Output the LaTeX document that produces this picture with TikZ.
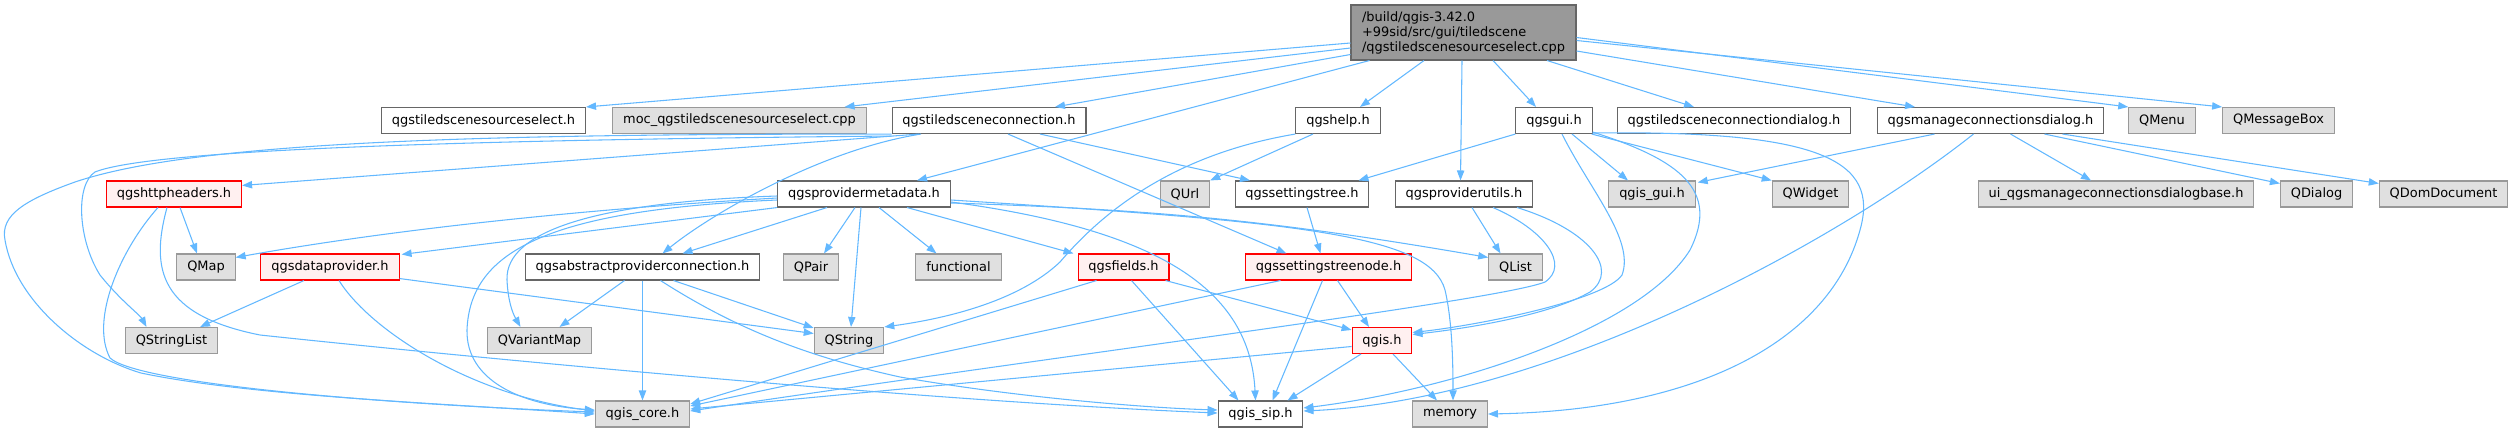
\documentclass[tikz,border=0pt]{standalone}
\usepackage{fontspec}
\setmainfont{DejaVu Sans}
\usepackage{xcolor}
\usetikzlibrary{arrows.meta,calc,positioning}

\definecolor{edgeblue}{HTML}{63B8FF}
\definecolor{nodegray}{HTML}{E0E0E0}
\definecolor{bordergray}{HTML}{999999}
\definecolor{borderdark}{HTML}{666666}
\definecolor{rootgray}{HTML}{999999}
\definecolor{redfill}{HTML}{FFF0F0}

\begin{document}
\begin{tikzpicture}[
		x=0.75pt, y=-0.75pt,
		hfile/.style={draw=borderdark, fill=white, line width=0.8pt, minimum height=19.5pt,
			inner xsep=7.8pt, inner ysep=0pt, font=\fontsize{9.7}{11.25}\selectfont},
		sysfile/.style={hfile, draw=bordergray, fill=nodegray},
		badfile/.style={hfile, draw=red, fill=redfill},
		rootfile/.style={hfile, fill=rootgray, align=left, minimum width=168.75pt, minimum height=41.25pt},
		dep/.style={draw=edgeblue, line width=0.8pt, -{Triangle[length=7.5pt,width=5.5pt]}}
		]
		\useasboundingbox (0,0) rectangle (2515,432);

		% Le fichier source
		\node[rootfile] (main) at (1463.5,32.5) {/build/qgis-3.42.0\\+99sid/src/gui/tiledscene\\/qgstiledscenesourceselect.cpp};

		% Premier niveau
		\node[hfile] (srch) at (483.5,120.5) {qgstiledscenesourceselect.h};
		\node[sysfile] (moc) at (739.5,120.5) {moc\_qgstiledscenesourceselect.cpp};
		\node[hfile] (conn) at (989,120.5) {qgstiledsceneconnection.h};
		\node[hfile] (help) at (1338,120.5) {qgshelp.h};
		\node[hfile] (gui) at (1554,120.5) {qgsgui.h};
		\node[hfile] (conndlg) at (1734,120.5) {qgstiledsceneconnectiondialog.h};
		\node[hfile] (mcd) at (1990.5,120.5) {qgsmanageconnectionsdialog.h};
		\node[sysfile] (qmenu) at (2162,120.5) {QMenu};
		\node[sysfile] (qmsgbox) at (2278.5,120.5) {QMessageBox};

		% Deuxieme niveau
		\node[badfile] (httph) at (174,194) {qgshttpheaders.h};
		\node[hfile] (pmeta) at (864,194) {qgsprovidermetadata.h};
		\node[sysfile] (qurl) at (1185,194) {QUrl};
		\node[hfile] (stree) at (1302,194) {qgssettingstree.h};
		\node[hfile] (putils) at (1464,194) {qgsproviderutils.h};
		\node[sysfile] (guih) at (1652,194) {qgis\_gui.h};
		\node[sysfile] (qwidget) at (1810.5,194) {QWidget};
		\node[sysfile] (uibase) at (2116,194) {ui\_qgsmanageconnectionsdialogbase.h};
		\node[sysfile] (qdialog) at (2316.5,194) {QDialog};
		\node[sysfile] (qdomdoc) at (2443.5,194) {QDomDocument};

		% Troisieme niveau
		\node[sysfile] (qmap) at (206,267) {QMap};
		\node[badfile] (dprov) at (330,267) {qgsdataprovider.h};
		\node[hfile] (apconn) at (642.5,267) {qgsabstractproviderconnection.h};
		\node[sysfile] (qpair) at (811,267) {QPair};
		\node[sysfile] (func) at (958.5,267) {functional};
		\node[badfile] (fields) at (1123.5,267) {qgsfields.h};
		\node[badfile] (stnode) at (1328.5,267) {qgssettingstreenode.h};
		\node[sysfile] (qlist) at (1515.5,267) {QList};

		% Quatrieme niveau
		\node[sysfile] (qstrlist) at (171.5,340.5) {QStringList};
		\node[sysfile] (qvarmap) at (539.5,340.5) {QVariantMap};
		\node[sysfile] (qstring) at (849,340.5) {QString};
		\node[badfile] (qgish) at (1382,340.5) {qgis.h};

		% Dernier niveau
		\node[sysfile] (core) at (642.5,414) {qgis\_core.h};
		\node[hfile] (sip) at (1260.5,414) {qgis\_sip.h};
		\node[sysfile] (memory) at (1450,414) {memory};

		% Les inclusions du fichier source
		\draw[dep] ($(main.west)+(0,10.5)$) -- (srch.north east);
		\draw[dep] ($(main.west)+(0,15.5)$) -- ($(moc.north)+(105,0)$);
		\draw[dep] ($(main.west)+(0,22)$) -- ($(conn.north)+(66,0)$);
		\draw[dep] ($(main.south)+(-94,0)$) -- ($(pmeta.north)+(53,0)$);
		\draw[dep] ($(main.south)+(-39.5,0)$) -- ($(help.north)+(22,0)$);
		\draw[dep] ($(main.south)+(-1.5,0)$) -- ($(putils.north)+(-3.5,0)$);
		\draw[dep] ($(main.south)+(29.5,0)$) -- ($(gui.north)+(-18,0)$);
		\draw[dep] ($(main.south)+(83.5,0)$) -- ($(conndlg.north)+(-40,0)$);
		\draw[dep] ($(main.east)+(0,18.5)$) -- ($(mcd.north)+(-75.5,0)$);
		\draw[dep] ($(main.east)+(0,5)$) -- (qmenu.north west);
		\draw[dep] ($(main.east)+(0,8)$) -- (qmsgbox.north west);

		% qgstiledsceneconnection.h
		\draw[dep] ($(conn.south)+(-70,0)$) -- ($(httph.north east)+(0,5)$);
		\draw[dep] (conn.south west) .. controls (500,134) and (200,140) .. (75,182)
			.. controls (25,200) and (0,215) .. (5,240)
			.. controls (15,300) and (80,355) .. (141,373)
			.. controls (250,396) and (450,404) .. (core.west);
		\draw[dep] ($(conn.south west)+(0,2)$) .. controls (450,140) and (150,150) .. (95,172)
			.. controls (75,185) and (78,240) .. (100,275)
			.. controls (120,300) and (140,315) .. ($(qstrlist.north)+(-25,0)$);
		\draw[dep] ($(conn.south)+(-68,0)$) .. controls (820,150) and (710,215) .. ($(apconn.north)+(20,0)$);
		\draw[dep] ($(conn.south)+(19,0)$) -- ($(stnode.north)+(-42,0)$);
		\draw[dep] ($(conn.south)+(51,0)$) -- ($(stree.north)+(-52,0)$);

		% qgshttpheaders.h
		\draw[dep] ($(httph.south)+(6,0)$) -- ($(qmap.north)+(-9,0)$);
		\draw[dep] ($(httph.south)+(-16,0)$) .. controls (120,250) and (90,320) .. (110,358)
			.. controls (140,385) and (400,405) .. ($(core.west)+(0,-2)$);
		\draw[dep] ($(httph.south)+(-7,0)$) .. controls (150,270) and (160,315) .. (260,335)
			.. controls (400,350) and (900,400) .. ($(sip.west)+(0,-1)$);

		% qgsprovidermetadata.h
		\draw[dep] ($(pmeta.west)+(0,4)$) .. controls (600,208) and (400,228) .. ($(qmap.north east)+(0,4)$);
		\draw[dep] (pmeta.south west) -- ($(dprov.north east)+(2,1)$);
		\draw[dep] ($(pmeta.south)+(-37,0)$) -- ($(apconn.north)+(40,0)$);
		\draw[dep] ($(pmeta.south)+(-9,0)$) -- ($(qpair.north)+(13,0)$);
		\draw[dep] ($(pmeta.south)+(-3,0)$) -- ($(qstring.north)+(2,0)$);
		\draw[dep] ($(pmeta.south)+(15,0)$) -- ($(func.north)+(-22,0)$);
		\draw[dep] ($(pmeta.south)+(43,0)$) -- ($(fields.north)+(-50,0)$);
		\draw[dep] ($(pmeta.east)+(0,8)$) .. controls (1160,230) and (1250,290) .. ($(sip.north)+(-5,0)$);
		\draw[dep] ($(pmeta.east)+(0,6)$) .. controls (1300,222) and (1430,235) .. (1445,290)
			.. controls (1452,320) and (1453,360) .. ($(memory.north)+(3,0)$);
		\draw[dep] ($(pmeta.east)+(0,9)$) to[bend left=4] ($(qlist.north west)+(0,4)$);
		\draw[dep] ($(pmeta.west)+(0,2)$) .. controls (600,202) and (505,230) .. (507,280)
			.. controls (508,300) and (512,312) .. ($(qvarmap.north)+(-19,0)$);
		\draw[dep] ($(pmeta.west)+(0,6)$) .. controls (550,210) and (470,250) .. (467,330)
			.. controls (466,380) and (520,405) .. ($(core.west)+(0,-4)$);

		% qgsdataprovider.h
		\draw[dep] ($(dprov.south)+(-26,0)$) -- ($(qstrlist.north)+(28.5,0)$);
		\draw[dep] ($(dprov.south)+(9,0)$) .. controls (370,330) and (470,395) .. ($(core.west)+(0,-3)$);
		\draw[dep] ($(dprov.south east)+(0,-2)$) -- ($(qstring.west)+(0,-7)$);

		% qgsabstractproviderconnection.h
		\draw[dep] ($(apconn.south)+(-18,0)$) -- ($(qvarmap.north)+(20,0)$);
		\draw[dep] (apconn.south) -- (core.north);
		\draw[dep] ($(apconn.south)+(31,0)$) -- ($(qstring.north west)+(0,1)$);
		\draw[dep] ($(apconn.south)+(18,0)$) .. controls (730,325) and (800,355) .. (900,377)
			.. controls (1020,398) and (1150,408) .. ($(sip.west)+(0,-4)$);

		% qgsfields.h et qgssettingstreenode.h
		\draw[dep] ($(fields.south)+(-27,0)$) -- ($(core.east)+(0,-10)$);
		\draw[dep] ($(fields.south)+(8,0)$) -- ($(sip.north)+(-22,0)$);
		\draw[dep] ($(fields.south)+(42,0)$) -- ($(qgish.north west)+(0,3)$);
		\draw[dep] ($(stnode.south)+(-48,0)$) -- ($(core.east)+(0,-8)$);
		\draw[dep] ($(stnode.south)+(-6,0)$) -- ($(sip.north)+(12,0)$);
		\draw[dep] ($(stnode.south)+(9,0)$) -- ($(qgish.north)+(-13,0)$);
		\draw[dep] ($(stree.south)+(5,0)$) -- ($(stnode.north)+(-8,0)$);

		% qgis.h
		\draw[dep] ($(qgish.west)+(0,6)$) -- ($(core.east)+(0,-5)$);
		\draw[dep] ($(qgish.south)+(-21,0)$) -- ($(sip.north)+(27,0)$);
		\draw[dep] ($(qgish.south)+(11,0)$) -- ($(memory.north)+(-13,0)$);

		% qgsproviderutils.h
		\draw[dep] ($(putils.south)+(8,0)$) -- ($(qlist.north)+(-15,0)$);
		\draw[dep] ($(putils.south)+(29,0)$) .. controls (1545,230) and (1570,265) .. (1545,282)
			.. controls (1500,300) and (1100,350) .. ($(core.east)+(0,-3)$);
		\draw[dep] ($(putils.south)+(53,0)$) .. controls (1590,230) and (1620,270) .. (1590,292)
			.. controls (1550,315) and (1470,328) .. ($(qgish.east)+(0,-6)$);

		% qgsgui.h
		\draw[dep] (gui.south west) -- ($(stree.north east)+(-11,0)$);
		\draw[dep] ($(gui.south)+(18,0)$) -- ($(guih.north)+(-24,0)$);
		\draw[dep] ($(gui.south east)+(-1,0)$) -- (qwidget.north west);
		\draw[dep] ($(gui.south)+(8,0)$) .. controls (1590,190) and (1635,240) .. (1622,275)
			.. controls (1605,300) and (1480,325) .. ($(qgish.east)+(0,-8)$);
		\draw[dep] ($(gui.south east)+(0,-2)$) .. controls (1680,160) and (1720,190) .. (1690,250)
			.. controls (1640,330) and (1450,390) .. ($(sip.east)+(0,-6)$);
		\draw[dep] ($(gui.south east)+(0,-1)$) .. controls (1820,130) and (1880,160) .. (1860,230)
			.. controls (1830,340) and (1700,410) .. (memory.east);

		% qgshelp.h
		\draw[dep] ($(help.south)+(-25,0)$) -- (qurl.north east);
		\draw[dep] (help.south west) .. controls (1170,155) and (1100,215) .. (1060,262)
			.. controls (1020,300) and (950,318) .. (qstring.north east);

		% qgsmanageconnectionsdialog.h
		\draw[dep] ($(mcd.south)+(-56,0)$) -- ($(guih.north east)+(2,2)$);
		\draw[dep] ($(mcd.south)+(-17,0)$) .. controls (1840,240) and (1550,400) .. ($(sip.east)+(0,-3)$);
		\draw[dep] ($(mcd.south)+(20,0)$) -- ($(uibase.north)+(-25,0)$);
		\draw[dep] ($(mcd.south)+(54,0)$) -- ($(qdialog.north west)+(0,3)$);
		\draw[dep] ($(mcd.south)+(72,0)$) -- ($(qdomdoc.north west)+(0,3)$);
	\end{tikzpicture}
\end{document}
